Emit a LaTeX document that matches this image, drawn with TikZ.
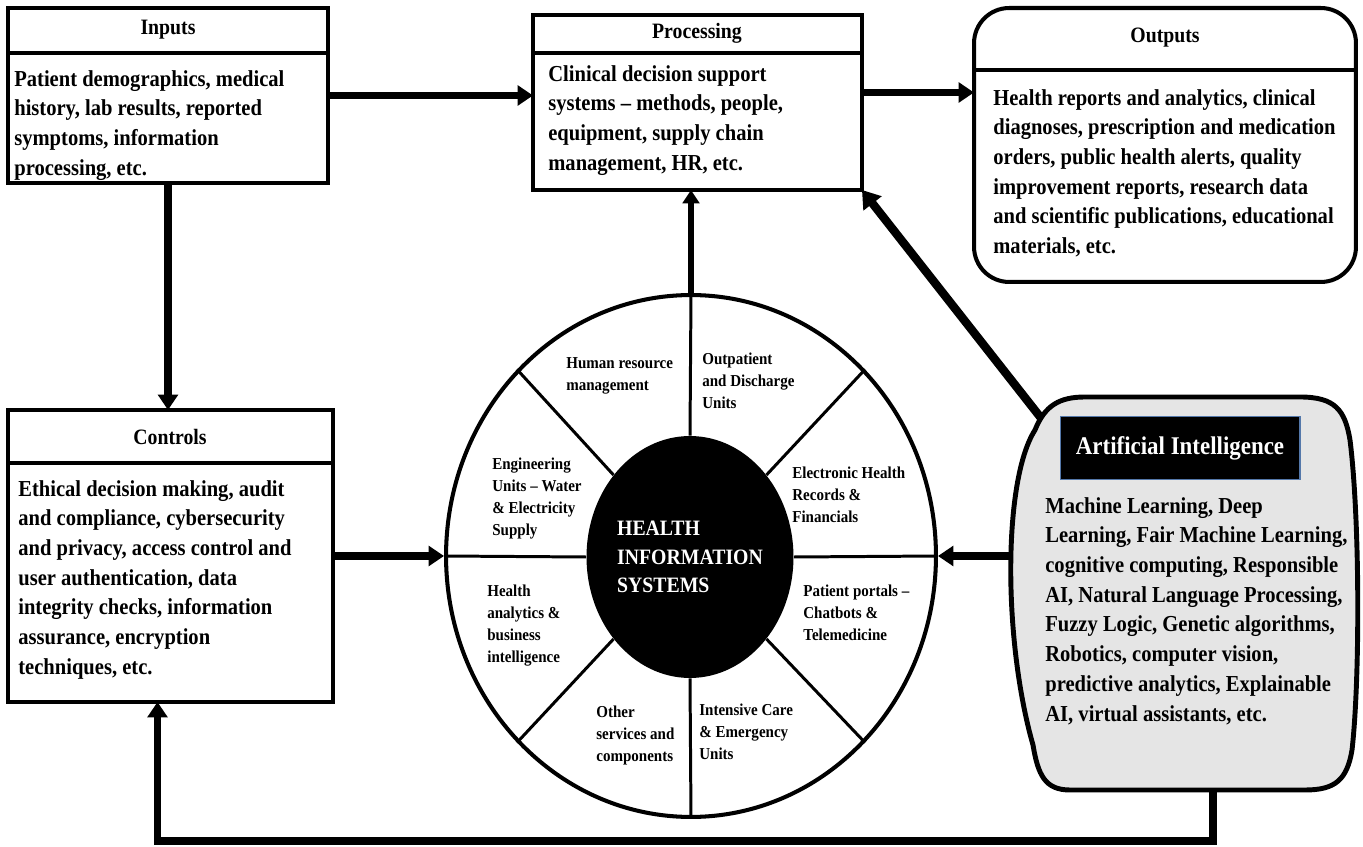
\documentclass[tikz,border=0pt]{standalone}
\usepackage{fontspec}
\setmainfont{Liberation Serif}[FakeStretch=0.9]
\usetikzlibrary{arrows.meta,shapes.geometric}
\definecolor{aigray}{RGB}{229,229,229}
\definecolor{aiblue}{RGB}{84,120,170}
\tikzstyle{panel}=[draw,line width=2.3pt,inner sep=0pt,outer sep=0pt]
\tikzstyle{divider}=[line width=2.3pt]
\tikzstyle{headline}=[font=\bfseries\fontsize{12.5}{15}\selectfont]
\tikzstyle{bodytext}=[anchor=north west,align=left,inner sep=0pt,font=\bfseries\fontsize{13}{16.9}\selectfont]
\tikzstyle{segtext}=[anchor=north west,align=left,inner sep=0pt,font=\bfseries\fontsize{9.5}{12.5}\selectfont]
\tikzstyle{flow}=[draw,line width=4pt,-{Triangle[length=4pt 1.2,width=4pt 1.8]}]

\begin{document}
\begin{tikzpicture}[x=0.02cm,y=-0.02cm]
    \useasboundingbox (0,0) rectangle (1363,847);
    % Square panels with a title strip
    \foreach \pos/\name/\boxw/\boxh/\headh in {{(168,95.5)/inputs/6.4/3.5/0.9}, {(697.5,102.5)/processing/6.58/3.5/0.76}, {(170.5,556)/controls/6.5/5.84/1.06}}{
        \node[panel,minimum width=\boxw cm,minimum height=\boxh cm] (\name) at \pos {};
        \draw[divider] ([yshift=-\headh cm]\name.north west) -- ([yshift=-\headh cm]\name.north east);
    }
    % Outputs panel has round corners
    \node[panel,rounded corners=20pt,minimum width=7.64cm,minimum height=5.48cm] (outputs) at (1165,145) {};
    \draw[divider] ([yshift=-1.24cm]outputs.north west) -- ([yshift=-1.24cm]outputs.north east);
    \foreach \pos/\name/\txt in {{(168,30)/inputsTitle/Inputs}, {(697,33)/processingTitle/Processing}, {(1165,38)/outputsTitle/Outputs}, {(170,437)/controlsTitle/Controls}}
        \node[headline] (\name) at \pos {\txt};
    \node[bodytext] (inputsText) at (14,70) {Patient demographics, medical\\history, lab results, reported\\symptoms, information\\processing, etc.};
    \node[bodytext] (processingText) at (548,65) {Clinical decision support\\systems – methods, people,\\equipment, supply chain\\management, HR, etc.};
    \node[bodytext] (outputsText) at (993,89) {Health reports and analytics, clinical\\diagnoses, prescription and medication\\orders, public health alerts, quality\\improvement reports, research data\\and scientific publications, educational\\materials, etc.};
    \node[bodytext] (controlsText) at (18,480) {Ethical decision making, audit\\and compliance, cybersecurity\\and privacy, access control and\\user authentication, data\\integrity checks, information\\assurance, encryption\\techniques, etc.};

    % The wheel of health information systems
    \node[draw,ellipse,line width=2.3pt,inner sep=0pt,minimum width=9.8cm,minimum height=10.44cm] (wheel) at (691,556) {};
    \node[ellipse,fill=black,text=white,align=left,inner sep=0pt,minimum width=4.14cm,minimum height=4.84cm,font=\bfseries\fontsize{12.5}{16.4}\selectfont] (his) at (690,557) {HEALTH\\INFORMATION\\SYSTEMS};
    \foreach \a in {0,47,90,133,180,227,270,313}
        \draw[line width=1.7pt] (his.\a) -- (wheel.\a);
    \foreach \pos/\name/\txt in {{(566,357)/hrm/Human resource\\management}, {(702,353)/opd/Outpatient\\and Discharge\\Units}, {(792,467)/ehr/Electronic Health\\Records \&\\Financials}, {(492,458)/eng/Engineering\\Units – Water\\\& Electricity\\Supply}, {(487,585)/bia/Health\\analytics \&\\business\\intelligence}, {(803,585)/portal/Patient portals –\\Chatbots \&\\Telemedicine}, {(596,706)/other/Other\\services and\\components}, {(699,704)/icu/Intensive Care\\\& Emergency\\Units}}
        \node[segtext] (\name) at \pos {\txt};

    % Artificial intelligence
    \path[draw,fill=aigray,line width=2.8pt] (1085,397) -- (1300,397) .. controls (1335,397) and (1345,410) .. (1350,440) .. controls (1360,520) and (1360,680) .. (1352,750) .. controls (1347,780) and (1335,790) .. (1305,790) -- (1070,790) .. controls (1045,790) and (1038,775) .. (1033,745) .. controls (1003,640) and (1003,480) .. (1035,430) .. controls (1045,405) and (1060,397) .. (1085,397) -- cycle;
    \coordinate (aiW) at (1010,556);
    \coordinate (aiNW) at (1041,418);
    \coordinate (aiS) at (1213,790);
    \coordinate (fbk) at (700,841);
    \node[fill=black,draw=aiblue,line width=0.6pt,text=white,minimum width=4.8cm,minimum height=1.26cm,font=\bfseries\fontsize{14.5}{17}\selectfont] (aiTitle) at (1180,448) {Artificial Intelligence};
    \node[bodytext] (aiText) at (1045,497) {Machine Learning, Deep\\Learning, Fair Machine Learning,\\cognitive computing, Responsible\\AI, Natural Language Processing,\\Fuzzy Logic, Genetic algorithms,\\Robotics, computer vision,\\predictive analytics, Explainable\\AI, virtual assistants, etc.};

    % Connect the parts
    \path[flow] (inputs.east) -- (inputs.east -| processing.west);
    \path[flow] ([yshift=2mm]processing.east) -- ([yshift=2mm]processing.east -| outputs.west);
    \path[flow] (inputs.south) -- (inputs.south |- controls.north);
    \path[flow] (controls.east) -- (wheel.west);
    \path[flow,line width=3pt] (wheel.north) -- (wheel.north |- processing.south);
    \path[flow,line width=4.8pt] (aiNW) -- (processing.south east);
    \path[flow] (aiW) -- (wheel.east);
    \path[flow] (aiS) |- (fbk) -| ([xshift=-2.6mm]controls.south);
\end{tikzpicture}
\end{document}
